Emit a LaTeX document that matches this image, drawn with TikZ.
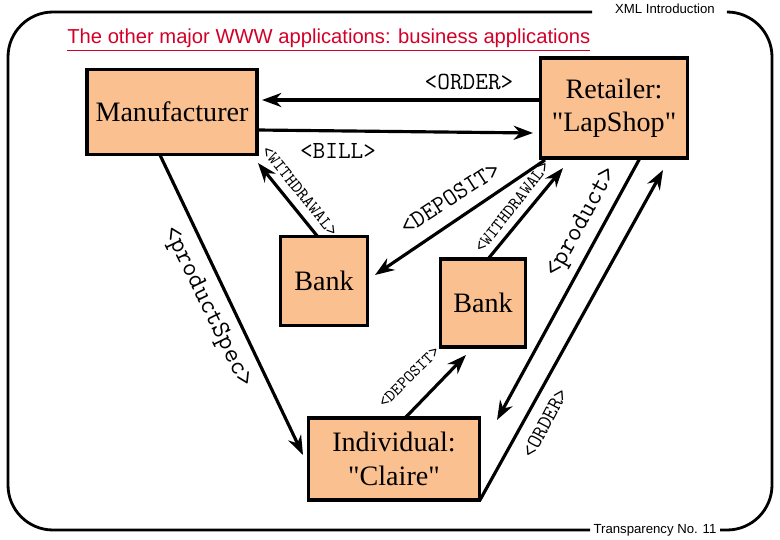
\documentclass[tikz,border=0pt]{standalone}
\usepackage{fontspec}
\setmainfont[Ligatures=NoCommon]{Liberation Serif}
\newfontfamily\hdr{Liberation Sans}
\usetikzlibrary{arrows.meta}
\definecolor{boxfill}{RGB}{250,192,144}
\definecolor{titlered}{RGB}{210,0,40}
\begin{document}
\begin{tikzpicture}[x=0.02cm,y=-0.02cm,
  box/.style={draw=black,line width=2.2pt,fill=boxfill,font=\fontsize{16}{19}\selectfont,align=center,inner sep=0pt},
  arr/.style={line width=1.8pt,-{Stealth[length=11pt,width=8pt]}},
  lbl/.style={font=\ttfamily\fontsize{#1}{#1}\selectfont,inner sep=0pt},
  lbl/.default=11]
\useasboundingbox (0,0) rectangle (780,540);
% frame
\draw[line width=1.6pt,rounded corners=0.9cm] (592,12) -- (8,12) -- (8,530) -- (590,530);
\draw[line width=1.6pt,rounded corners=0.9cm] (720,530) -- (772,530) -- (772,12) -- (728,12);
\node[font=\hdr\fontsize{7.5}{9}\selectfont,anchor=center] (hd) at (665,9) {XML Introduction};
\node[font=\hdr\fontsize{7.5}{9}\selectfont,anchor=center] (ft) at (655,530) {Transparency No. 11};
\node[font=\hdr\fontsize{11.5}{14}\selectfont,text=titlered,anchor=west,inner sep=0pt] (title) at (67,40) {\underline{The other major WWW applications: business applications}};
% boxes
\node[box,minimum width=3.4cm,minimum height=1.7cm] (man) at (172,112) {Manufacturer};
\node[box,minimum width=2.94cm,minimum height=2.0cm] (ret) at (614,108) {Retailer:\\\textquotedbl LapShop\textquotedbl};
\node[box,minimum width=1.74cm,minimum height=1.78cm] (b1) at (324,281) {Bank};
\node[box,minimum width=1.7cm,minimum height=1.76cm] (b2) at (483,303) {Bank};
\node[box,minimum width=3.42cm,minimum height=1.64cm] (ind) at (394,459) {Individual:\\\textquotedbl Claire\textquotedbl};
% arrows
\draw[arr] ([shift={(-73,-8)}]ret.center) -- ([shift={(90,-12)}]man.center);
\draw[arr] ([shift={(85,18)}]man.center) -- ([shift={(-81,25)}]ret.center);
\draw[arr] ([shift={(-6,-44)}]b1.center) -- ([shift={(86,51)}]man.center);
\draw[arr] ([shift={(-69,52)}]ret.center) -- ([shift={(51,-6)}]b1.center);
\draw[arr] ([shift={(5,-44)}]b2.center) -- ([shift={(-51,60)}]ret.center);
\draw[arr] ([shift={(26,50)}]ret.center) -- ([shift={(103,-39)}]ind.center);
\draw[arr] ([shift={(86,41)}]ind.center) -- ([shift={(49,62)}]ret.center);
\draw[arr] ([shift={(-12,43)}]man.center) -- ([shift={(-91,-4)}]ind.center);
\draw[arr] ([shift={(11,-41)}]ind.center) -- ([shift={(-17,52)}]b2.center);
% labels
\node[lbl=14] (l1) at (469,82) {<ORDER>};
\node[lbl=14] (l2) at (338,151) {<BILL>};
\node[lbl=10,rotate=-51] (l3) at (300,191) {<WITHDRAWAL>};
\node[lbl=14,rotate=33] (l4) at (450,198) {<DEPOSIT>};
\node[lbl=10,rotate=52] (l5) at (512,207) {<WITHDRAWAL>};
\node[lbl=15,rotate=61] (l6) at (582,223) {<product>};
\node[lbl=12,rotate=62] (l7) at (545,423) {<ORDER>};
\node[lbl=15,rotate=-64] (l8) at (207,307) {<productSpec>};
\node[lbl=9.5,rotate=45] (l9) at (409,377) {<DEPOSIT>};
\end{tikzpicture}
\end{document}
